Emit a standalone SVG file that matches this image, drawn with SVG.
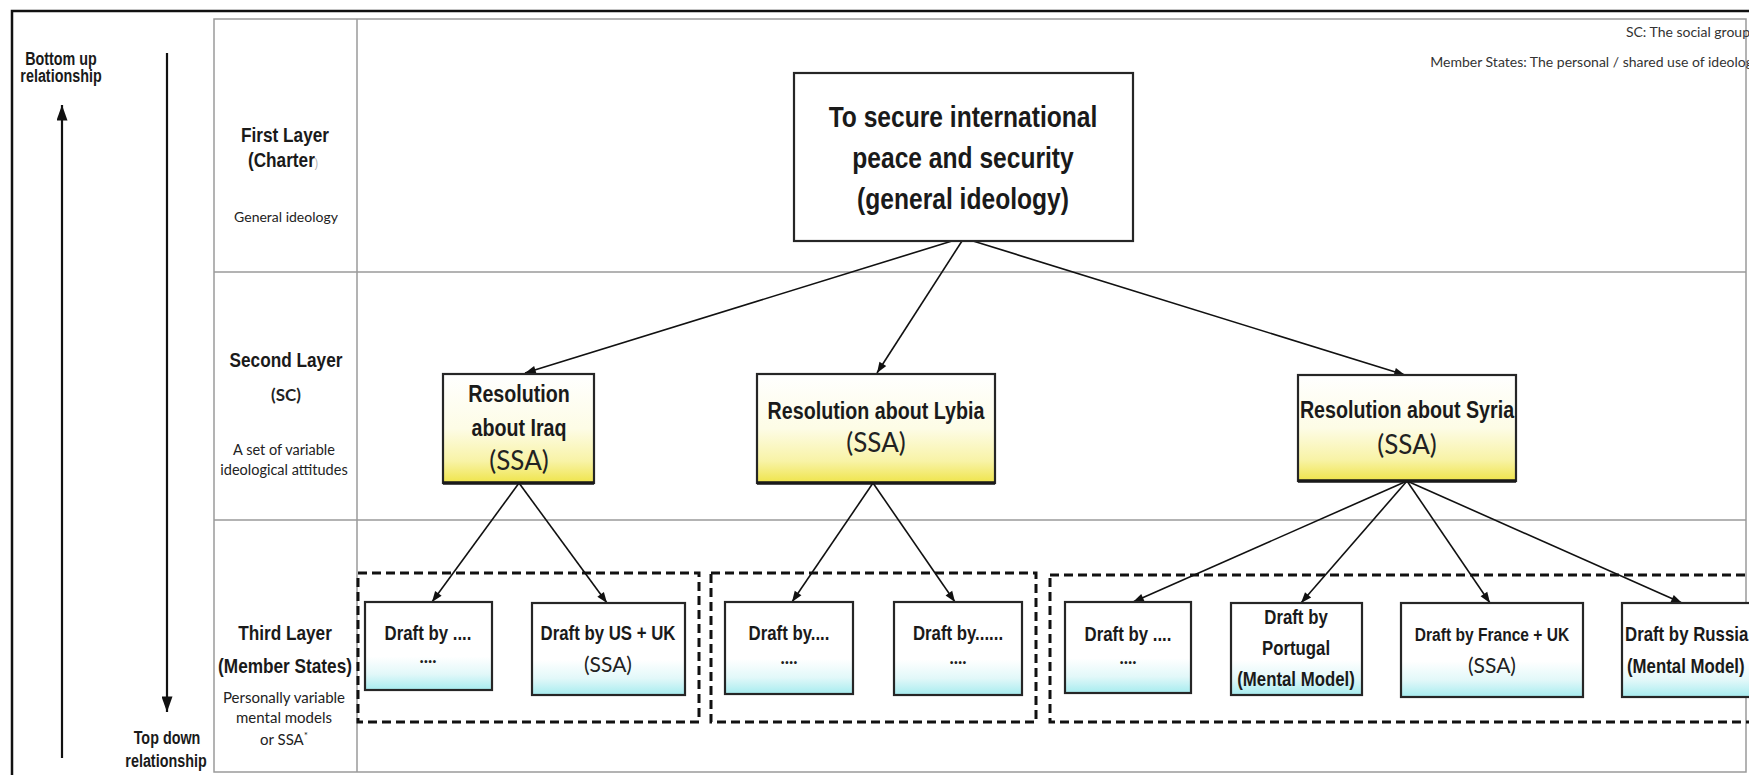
<svg xmlns="http://www.w3.org/2000/svg" width="1749" height="775" viewBox="0 0 1749 775">
  <defs>
    <linearGradient id="fillYellow" x1="0" y1="0" x2="0" y2="1">
      <stop offset="0" stop-color="#ffffff"/>
      <stop offset="0.5" stop-color="#fdfce6"/>
      <stop offset="0.8" stop-color="#f8f3a6"/>
      <stop offset="1" stop-color="#efe44a"/>
    </linearGradient>
    <linearGradient id="fillCyan" x1="0" y1="0" x2="0" y2="1">
      <stop offset="0" stop-color="#ffffff"/>
      <stop offset="0.62" stop-color="#ffffff"/>
      <stop offset="0.82" stop-color="#e2f8f9"/>
      <stop offset="1" stop-color="#a6ecef"/>
    </linearGradient>
    <marker id="arrow" viewBox="0 0 12 10" refX="12" refY="5" markerWidth="12" markerHeight="9" markerUnits="userSpaceOnUse" orient="auto">
      <path d="M0,0.5 L12,5 L0,9.5 z" fill="#111"/>
    </marker>
    <marker id="arrowBig" viewBox="0 0 14 10" refX="14" refY="5" markerWidth="16" markerHeight="11" markerUnits="userSpaceOnUse" orient="auto">
      <path d="M0,0 L14,5 L0,10 z" fill="#111"/>
    </marker>
  </defs>
  <style>
    .frame { fill: none; stroke: #111; stroke-width: 2.5; }
    .grid { stroke: #9a9a9a; stroke-width: 1.5; fill: none; }
    .box { stroke: #262626; stroke-width: 2.2; }
    .shade { stroke: #1a1a1a; stroke-width: 3.5; }
    .group { fill: none; stroke: #111; stroke-width: 3; stroke-dasharray: 9 5; }
    .link { stroke: #111; stroke-width: 1.6; fill: none; marker-end: url(#arrow); }
    .axis { stroke: #111; stroke-width: 2.2; fill: none; marker-end: url(#arrowBig); }
    /* condensed bold heading face: bold sans squeezed horizontally via transform */
    .n { font-family: "Liberation Sans", Arial, sans-serif; font-weight: bold; fill: #1a1a1a; text-anchor: middle; }
    .n.start { text-anchor: start; }
    .human { font-family: Lato, "Open Sans", "Liberation Sans", sans-serif; fill: #222; text-anchor: middle; }
    .note { font-family: Lato, "Open Sans", sans-serif; font-size: 14px; fill: #333; text-anchor: end; }
    .side { font-size: 17.5px; }
    .title { font-size: 21px; }
    .top { font-size: 30px; }
    .mid { font-size: 24px; }
    .low { font-size: 20.5px; }
  </style>

  <!-- outer frame (runs past the right and bottom edges) -->
  <rect class="frame" x="12" y="11" width="1800" height="800"/>

  <!-- layer table -->
  <g id="table">
    <rect class="grid" x="214" y="19" width="1532" height="753"/>
    <line class="grid" x1="357" y1="19" x2="357" y2="772"/>
    <line class="grid" x1="214" y1="272" x2="1746" y2="272"/>
    <line class="grid" x1="214" y1="520" x2="1746" y2="520"/>
  </g>

  <!-- direction axes on the left -->
  <g id="bottom-up">
    <line class="axis" x1="62" y1="758" x2="62" y2="105"/>
    <text class="n side" transform="translate(61,65) scale(0.82,1)">Bottom up</text>
    <text class="n side" transform="translate(61,82) scale(0.82,1)">relationship</text>
  </g>
  <g id="top-down">
    <line class="axis" x1="167" y1="53" x2="167" y2="712"/>
    <text class="n side" transform="translate(167,744) scale(0.82,1)">Top down</text>
    <text class="n side" transform="translate(166,767) scale(0.82,1)">relationship</text>
  </g>

  <!-- row headers -->
  <g id="layer-1-header">
    <text class="n title" transform="translate(285,142) scale(0.82,1)">First Layer</text>
    <text class="n title" transform="translate(283,167) scale(0.82,1)">(Charter<tspan font-size="12" font-weight="normal" fill="#aaa">)</tspan></text>
    <text class="human" font-size="14" x="286" y="222">General ideology</text>
  </g>
  <g id="layer-2-header">
    <text class="n title" transform="translate(286,367) scale(0.82,1)">Second Layer</text>
    <text class="human" font-size="17" font-weight="bold" x="286" y="401">(SC)</text>
    <text class="human" font-size="14.5" x="284" y="455">A set of variable</text>
    <text class="human" font-size="14.5" x="284" y="475">ideological attitudes</text>
  </g>
  <g id="layer-3-header">
    <text class="n title" transform="translate(285,640) scale(0.82,1)">Third Layer</text>
    <text class="n title" transform="translate(285,673) scale(0.82,1)">(Member States)</text>
    <text class="human" font-size="15" x="284" y="703">Personally variable</text>
    <text class="human" font-size="15" x="284" y="723">mental models</text>
    <text class="human" font-size="15" x="284" y="745">or SSA<tspan font-size="10" dy="-6">*</tspan></text>
  </g>

  <!-- legend notes (they run on past the right edge) -->
  <g id="notes">
    <text class="note" x="1750" y="37">SC: The social group</text>
    <text class="note" x="1753" y="67">Member States: The personal / shared use of ideolog</text>
  </g>

  <!-- connectors -->
  <g id="connectors">
    <line class="link" x1="952" y1="241" x2="525" y2="373"/>
    <line class="link" x1="962" y1="241" x2="877" y2="373"/>
    <line class="link" x1="973" y1="241" x2="1405" y2="375"/>
    <line class="link" x1="519" y1="483" x2="432" y2="602"/>
    <line class="link" x1="519" y1="483" x2="607" y2="603"/>
    <line class="link" x1="873" y1="483" x2="792" y2="602"/>
    <line class="link" x1="873" y1="483" x2="955" y2="602"/>
    <line class="link" x1="1407" y1="481" x2="1133" y2="602"/>
    <line class="link" x1="1407" y1="481" x2="1301" y2="603"/>
    <line class="link" x1="1407" y1="481" x2="1490" y2="603"/>
    <line class="link" x1="1407" y1="481" x2="1682" y2="603"/>
  </g>

  <!-- first layer -->
  <g id="charter-goal">
    <rect class="box" x="794" y="73" width="339" height="168" fill="#fff"/>
    <text class="n top" transform="translate(963,127) scale(0.82,1)">To secure international</text>
    <text class="n top" transform="translate(963,168) scale(0.82,1)">peace and security</text>
    <text class="n top" transform="translate(963,209) scale(0.82,1)">(general ideology)</text>
  </g>

  <!-- second layer -->
  <g id="res-iraq">
    <rect class="box" x="443" y="374" width="151" height="109" fill="url(#fillYellow)"/>
    <line class="shade" x1="443" y1="483" x2="594" y2="483"/>
    <text class="n mid" transform="translate(519,402) scale(0.82,1)">Resolution</text>
    <text class="n mid" transform="translate(519,436) scale(0.82,1)">about Iraq</text>
    <text class="human" font-size="26" x="519" y="470">(SSA)</text>
  </g>
  <g id="res-lybia">
    <rect class="box" x="757" y="374" width="238" height="109" fill="url(#fillYellow)"/>
    <line class="shade" x1="757" y1="483" x2="995" y2="483"/>
    <text class="n mid" transform="translate(876,419) scale(0.82,1)">Resolution about Lybia</text>
    <text class="human" font-size="26" x="876" y="452">(SSA)</text>
  </g>
  <g id="res-syria">
    <rect class="box" x="1298" y="375" width="218" height="106" fill="url(#fillYellow)"/>
    <line class="shade" x1="1298" y1="481" x2="1516" y2="481"/>
    <text class="n mid" transform="translate(1407,418) scale(0.82,1)">Resolution about Syria</text>
    <text class="human" font-size="26" x="1407" y="454">(SSA)</text>
  </g>

  <!-- third layer groups -->
  <g id="group-iraq">
    <rect class="group" x="358" y="573" width="341" height="149"/>
  </g>
  <g id="group-lybia">
    <rect class="group" x="711" y="573" width="325" height="149"/>
  </g>
  <g id="group-syria">
    <rect class="group" x="1050" y="575" width="720" height="147"/>
  </g>

  <!-- third layer drafts -->
  <g id="draft-iraq-1">
    <rect class="box" x="365" y="602" width="127" height="88" fill="url(#fillCyan)"/>
    <text class="n low" transform="translate(428,640) scale(0.82,1)">Draft by ....</text>
    <text class="human" font-size="18" font-weight="bold" x="428" y="663">....</text>
  </g>
  <g id="draft-us-uk">
    <rect class="box" x="532" y="603" width="153" height="92" fill="url(#fillCyan)"/>
    <text class="n low" transform="translate(608,640) scale(0.82,1)">Draft by US + UK</text>
    <text class="human" font-size="21" x="608" y="672">(SSA)</text>
  </g>
  <g id="draft-lybia-1">
    <rect class="box" x="725" y="602" width="128" height="92" fill="url(#fillCyan)"/>
    <text class="n low" transform="translate(789,640) scale(0.82,1)">Draft by....</text>
    <text class="human" font-size="18" font-weight="bold" x="789" y="664">....</text>
  </g>
  <g id="draft-lybia-2">
    <rect class="box" x="894" y="602" width="128" height="93" fill="url(#fillCyan)"/>
    <text class="n low" transform="translate(958,640) scale(0.82,1)">Draft by......</text>
    <text class="human" font-size="18" font-weight="bold" x="958" y="664">....</text>
  </g>
  <g id="draft-syria-1">
    <rect class="box" x="1065" y="602" width="126" height="91" fill="url(#fillCyan)"/>
    <text class="n low" transform="translate(1128,641) scale(0.82,1)">Draft by ....</text>
    <text class="human" font-size="18" font-weight="bold" x="1128" y="664">....</text>
  </g>
  <g id="draft-portugal">
    <rect class="box" x="1231" y="603" width="131" height="92" fill="url(#fillCyan)"/>
    <text class="n low" transform="translate(1296,624) scale(0.82,1)">Draft by</text>
    <text class="n low" transform="translate(1296,655) scale(0.82,1)">Portugal</text>
    <text class="n low" transform="translate(1296,686) scale(0.82,1)">(Mental Model)</text>
  </g>
  <g id="draft-france-uk">
    <rect class="box" x="1401" y="603" width="182" height="94" fill="url(#fillCyan)"/>
    <text class="n" font-size="19" transform="translate(1492,641) scale(0.82,1)">Draft by France + UK</text>
    <text class="human" font-size="21" x="1492" y="673">(SSA)</text>
  </g>
  <g id="draft-russia">
    <rect class="box" x="1622" y="603" width="160" height="94" fill="url(#fillCyan)"/>
    <text class="n low start" transform="translate(1625,641) scale(0.82,1)">Draft by Russia</text>
    <text class="n low start" transform="translate(1627,673) scale(0.82,1)">(Mental Model)</text>
  </g>
</svg>
